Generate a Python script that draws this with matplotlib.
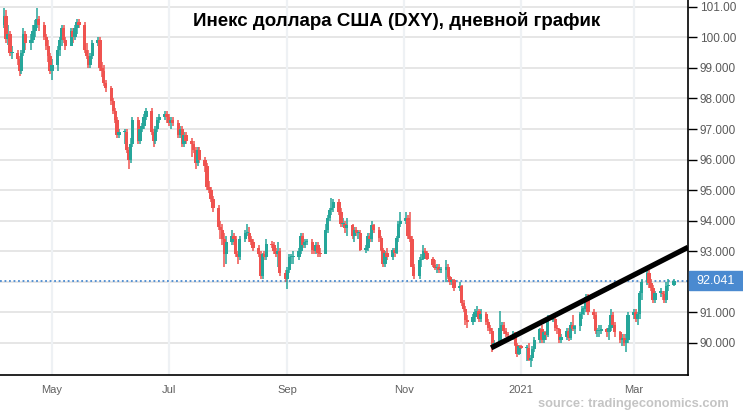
import numpy as np
import pandas as pd
import matplotlib
matplotlib.use('Agg')
import matplotlib.pyplot as plt
import matplotlib.dates as mdates
import matplotlib.transforms as mtransforms
from matplotlib.patches import Rectangle

plt.rcParams['font.family'] = ['Liberation Sans', 'DejaVu Sans']

title = 'Инекс доллара США (DXY), дневной график'
source = 'source: tradingeconomics.com'

# daily candles, Mon..Fri, one line per week (Apr 6 2020 .. Mar 22 2021)
first_open = 100.4
close_px = [
    100.7, 99.95, 100.1, 99.5, 99.5,
    99.3, 98.9, 99.5, 100.1, 99.8,
    99.9, 100.2, 100.4, 100.6, 100.4,
    100.0, 99.7, 99.4, 98.9, 99.1,
    99.6, 99.9, 100.3, 99.9, 99.7,
    100.2, 100.0, 100.3, 100.5, 100.4,
    99.6, 99.4, 99.1, 99.4, 99.8,
    99.9, 99.0, 98.9, 98.5, 98.35,
    97.9, 97.6, 97.3, 96.8, 96.9,
    96.9, 96.3, 96.0, 96.5, 97.3,
    96.6, 97.0, 97.1, 97.4, 97.6,
    96.9, 96.6, 97.0, 97.3, 97.4,
    97.5, 97.4, 97.2, 97.3, 97.2,
    96.8, 97.0, 96.5, 96.8, 96.6,
    96.5, 96.3, 95.9, 96.3, 96.0,
    95.8, 95.1, 95.0, 94.7, 94.4,
    93.8, 93.7, 93.4, 92.9, 93.3,
    93.5, 93.4, 92.9, 92.8, 93.4,
    93.6, 93.6, 93.4, 93.3, 93.1,
    92.9, 92.2, 92.9, 92.8, 93.25,
    93.2, 93.0, 92.9, 93.0, 92.3,
    92.1, 92.4, 92.8, 92.8, 92.8,
    93.0, 93.5, 93.2, 93.3, 93.3,
    93.05, 93.0, 93.2, 92.95, 92.9,
    93.7, 94.1, 94.35, 94.4, 94.6,
    94.3, 93.9, 93.9, 93.75, 93.85,
    93.5, 93.7, 93.6, 93.6, 93.05,
    93.1, 93.5, 93.4, 93.85, 93.7,
    93.45, 93.05, 92.6, 92.95, 92.8,
    93.05, 92.95, 93.45, 93.9, 94.0,
    94.1, 93.5, 93.4, 92.5, 92.2,
    92.7, 92.75, 93.0, 92.95, 92.75,
    92.55, 92.45, 92.5, 92.4, 92.4,
    92.5, 92.15, 92.0, 92.05, 91.8,
    91.85, 91.3, 91.1, 90.75, 90.7,
    90.85, 91.0, 91.05, 90.8, 90.95,
    90.7, 90.5, 90.4, 89.85, 90.0,
    90.5, 90.6, 90.4, 90.3, 90.25,
    90.3, 89.95, 89.65, 89.9, 89.85,
    89.85, 89.45, 89.5, 89.8, 90.1,
    90.45, 90.1, 90.35, 90.25, 90.75,
    90.8, 90.5, 90.45, 90.1, 90.2,
    90.4, 90.15, 90.6, 90.45, 90.55,
    90.95, 91.1, 91.1, 91.5, 91.0,
    90.9, 90.4, 90.4, 90.4, 90.45,
    90.35, 90.5, 90.9, 90.6, 90.35,
    90.1, 90.15, 90.0, 90.1, 90.9,
    91.0, 90.8, 90.95, 91.65, 92.0,
    92.3, 91.95, 91.8, 91.4, 91.65,
    91.65, 91.6, 91.4, 91.85, 91.9,
    92.041,
]
high_px = [
    100.95, 100.9, 100.4, 100.2, 99.7,
    99.6, 99.4, 99.6, 100.3, 100.2,
    100.1, 100.4, 100.55, 100.95, 100.7,
    100.5, 100.1, 99.9, 99.5, 99.3,
    99.7, 100.0, 100.4, 100.4, 100.0,
    100.3, 100.3, 100.4, 100.6, 100.6,
    100.5, 99.8, 99.6, 99.5, 99.9,
    100.0, 100.0, 99.2, 99.1, 98.6,
    98.4, 98.0, 97.7, 97.4, 97.0,
    97.0, 97.0, 96.4, 96.7, 97.4,
    97.4, 97.1, 97.2, 97.5, 97.7,
    97.7, 97.0, 97.1, 97.4, 97.5,
    97.6, 97.6, 97.5, 97.4, 97.4,
    97.3, 97.1, 97.1, 96.9, 96.9,
    96.7, 96.6, 96.4, 96.4, 96.4,
    96.1, 95.9, 95.3, 95.1, 94.8,
    94.5, 94.0, 93.9, 93.6, 93.5,
    93.7, 93.6, 93.5, 93.0, 93.5,
    93.7, 93.9, 93.8, 93.5, 93.4,
    93.2, 93.0, 92.95, 93.0, 93.4,
    93.35, 93.3, 93.1, 93.3, 93.1,
    92.4, 92.5, 92.9, 92.9, 93.0,
    93.1, 93.6, 93.6, 93.4, 93.4,
    93.4, 93.2, 93.3, 93.3, 93.1,
    93.9, 94.2, 94.4, 94.75, 94.7,
    94.7, 94.4, 94.1, 94.0, 94.1,
    93.9, 93.8, 93.8, 93.7, 93.7,
    93.2, 93.6, 93.6, 94.0, 93.9,
    93.8, 93.5, 93.1, 93.0, 93.1,
    93.1, 93.1, 93.5, 94.0, 94.3,
    94.3, 94.2, 94.3, 93.5, 92.6,
    92.8, 92.9, 93.2, 93.1, 93.0,
    92.8, 92.7, 92.6, 92.6, 92.5,
    92.7, 92.6, 92.2, 92.1, 92.1,
    92.0, 91.9, 91.4, 91.2, 90.9,
    90.95, 91.1, 91.2, 91.1, 91.1,
    91.0, 90.8, 90.6, 90.5, 90.1,
    91.05, 90.7, 90.7, 90.5, 90.35,
    90.4, 90.35, 90.0, 89.95, 89.95,
    89.95, 90.0, 89.6, 89.9, 90.2,
    90.5, 90.6, 90.4, 90.4, 90.9,
    90.9, 90.9, 90.6, 90.5, 90.3,
    90.5, 90.5, 90.7, 90.9, 90.6,
    91.0, 91.2, 91.2, 91.6, 91.6,
    91.1, 91.0, 90.5, 90.6, 90.6,
    90.5, 90.6, 91.1, 91.0, 90.7,
    90.4, 90.3, 90.3, 90.3, 91.0,
    91.1, 91.1, 91.0, 91.7, 92.1,
    92.5, 92.4, 92.1, 91.9, 91.7,
    91.8, 91.7, 91.7, 92.0, 92.1,
    92.1,
]
low_px = [
    100.3, 99.8, 99.75, 99.4, 99.3,
    99.1, 98.75, 98.8, 99.4, 99.6,
    99.6, 99.8, 100.0, 100.3, 100.2,
    99.9, 99.6, 99.2, 98.8, 98.6,
    98.9, 99.4, 99.7, 99.8, 99.6,
    99.7, 99.8, 99.9, 100.1, 100.3,
    99.5, 99.3, 99.0, 99.0, 99.3,
    99.7, 98.9, 98.7, 98.4, 98.2,
    97.8, 97.5, 97.2, 96.7, 96.7,
    96.5, 96.2, 95.7, 95.9, 96.4,
    96.5, 96.5, 96.9, 97.0, 97.3,
    96.8, 96.4, 96.5, 96.9, 97.2,
    97.3, 97.2, 97.1, 97.0, 97.1,
    96.7, 96.7, 96.4, 96.4, 96.5,
    96.1, 96.2, 95.7, 95.8, 95.9,
    95.6, 95.0, 94.9, 94.6, 94.3,
    93.7, 93.4, 93.2, 92.5, 92.6,
    93.2, 93.2, 92.8, 92.6, 92.7,
    93.3, 93.5, 93.3, 93.2, 93.0,
    92.8, 92.1, 92.1, 92.7, 92.7,
    93.1, 92.9, 92.8, 92.5, 92.2,
    92.0, 91.75, 92.3, 92.6, 92.6,
    92.7, 92.9, 93.1, 93.1, 93.2,
    92.9, 92.9, 92.9, 92.8, 92.8,
    92.9, 93.6, 94.0, 94.2, 94.3,
    94.2, 93.8, 93.8, 93.6, 93.5,
    93.4, 93.3, 93.5, 93.4, 93.0,
    92.95, 93.0, 93.3, 93.3, 93.6,
    93.3, 93.0, 92.5, 92.5, 92.7,
    92.7, 92.8, 92.9, 93.3, 93.8,
    93.9, 93.4, 93.3, 92.5, 92.1,
    92.1, 92.5, 92.7, 92.8, 92.7,
    92.5, 92.4, 92.3, 92.3, 92.3,
    92.0, 92.1, 91.9, 91.9, 91.7,
    91.7, 91.2, 91.0, 90.6, 90.5,
    90.6, 90.7, 90.9, 90.7, 90.7,
    90.6, 90.4, 90.3, 89.7, 89.8,
    89.9, 90.4, 90.3, 90.2, 90.2,
    90.1, 89.9, 89.55, 89.6, 89.8,
    89.4, 89.4, 89.2, 89.4, 89.7,
    90.0, 90.0, 90.0, 90.1, 90.2,
    90.7, 90.4, 90.3, 90.0, 90.0,
    90.1, 90.05, 90.1, 90.4, 90.3,
    90.4, 90.8, 90.9, 91.0, 90.9,
    90.8, 90.3, 90.2, 90.2, 90.3,
    90.2, 90.1, 90.4, 90.5, 90.2,
    90.0, 89.9, 89.9, 89.7, 90.0,
    90.8, 90.7, 90.6, 90.8, 91.4,
    91.9, 91.8, 91.7, 91.3, 91.3,
    91.5, 91.4, 91.3, 91.3, 91.7,
    91.85,
]
last_price = 92.041

month_ticks = ['2020-05-01', '2020-07-01', '2020-09-01', '2020-11-01', '2021-01-01', '2021-03-01']
month_labels = ['May', 'Jul', 'Sep', 'Nov', '2021', 'Mar']
y_ticks = [90, 91, 93, 94, 95, 96, 97, 98, 99, 100, 101]
y_grid = [90, 91, 92, 93, 94, 95, 96, 97, 98, 99, 100, 101]

trend_x = ['2020-12-16 10:00', '2021-03-29 07:00']
trend_y = [89.84, 93.13]

dates = pd.bdate_range('2020-04-06', '2021-03-22')
xd = mdates.date2num(dates.to_pydatetime())
c = np.array(close_px)
o = np.array([first_open] + close_px[:-1])
h = np.maximum(np.array(high_px), np.maximum(o, c))
l = np.minimum(np.array(low_px), np.minimum(o, c))

up_col = '#26a69a'
dn_col = '#ef5350'
cols = [up_col if cc >= oo else dn_col for oo, cc in zip(o, c)]

fig = plt.figure(figsize=(7.43, 4.16), dpi=100)
ax = fig.add_axes([0, 41/416, 688/743, 375/416])

for v in y_grid:
    ax.axhline(v, color='#e4e4e4', lw=1.3, zorder=0)
for d in month_ticks:
    ax.axvline(mdates.datestr2num(d), color='#eef1f4', lw=1.6, zorder=0)

ax.vlines(xd, l, h, colors=cols, lw=1.1, zorder=2)
body = np.maximum(np.abs(c - o), 0.035)
ax.bar(xd, body, bottom=np.minimum(o, c), width=1.75, color=cols, lw=0, zorder=3)

ax.axhline(last_price, color='#4a8ad0', lw=1.3, ls=(0, (1, 1.5)), zorder=1)
ax.plot(mdates.datestr2num(trend_x), trend_y, color='black', lw=3.8,
        solid_capstyle='butt', zorder=5)

ax.set_xlim(mdates.datestr2num('2020-04-03 19:00'), mdates.datestr2num('2021-03-29 07:00'))
ax.set_ylim(88.953, 101.22)

ax.set_xticks(mdates.datestr2num(month_ticks))
ax.set_xticklabels(month_labels)
ax.tick_params(axis='x', length=0, pad=7, labelsize=8, labelcolor='#606060')

ax.yaxis.tick_right()
ax.set_yticks(y_ticks)
ax.set_yticklabels([f'{v:.2f}' if v >= 100 else f'{v:.3f}' for v in y_ticks])
ax.tick_params(axis='y', direction='out', length=6.5, width=1, color='black',
               pad=2, labelsize=8.5, labelcolor='#5a5a5a')

for s in ['left', 'top']:
    ax.spines[s].set_visible(False)
ax.spines['right'].set_color('black')
ax.spines['bottom'].set_color('black')
ax.spines['right'].set_linewidth(1.2)
ax.spines['bottom'].set_linewidth(1.2)

# last price marker on the axis
tr = mtransforms.blended_transform_factory(fig.transFigure, ax.transData)
fig.add_artist(Rectangle((689/743, last_price - 0.3), 1 - 689/743, 0.6,
                         transform=tr, color='#4a8ad0', zorder=10))
fig.text(716/743, last_price, f'{last_price:.3f}', transform=tr, ha='center', va='center',
         color='white', fontsize=9, zorder=11)

fig.text(0.534, 1 - 21/416, title, ha='center', va='center', fontsize=13.5,
         fontweight='bold', color='black')
fig.text(729/743, 1 - 404/416, source, ha='right', va='center', fontsize=9.3,
         fontweight='bold', color='#c4c4c4')

fig.savefig('out.png', dpi=100)
